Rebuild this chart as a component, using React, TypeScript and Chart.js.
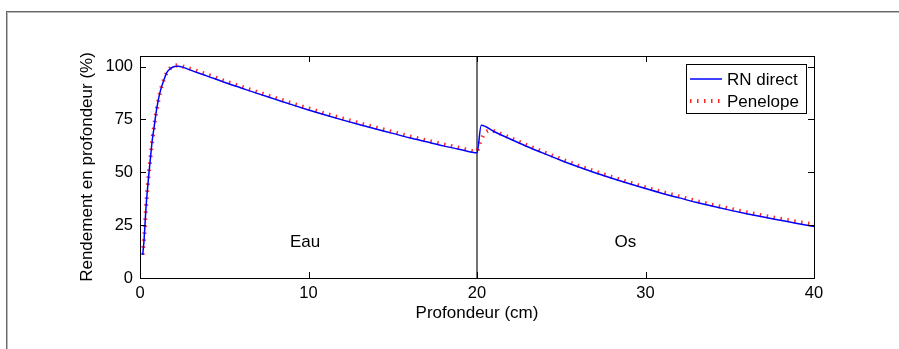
import { useEffect, useRef } from "react";
import { Chart, registerables } from "chart.js";

Chart.register(...registerables);

const FONT = '"Liberation Sans", Arial, Helvetica, sans-serif';
const FONT_SIZE = 17;
const TICK_SIZE = 16.5;

// RN direct (blue solid)
const rnDepth = [
  0.16, 0.24, 0.3, 0.36, 0.44, 0.53, 0.63, 0.73, 0.83, 0.95, 1.09, 1.23, 1.39,
  1.58, 1.78, 2.05, 2.27, 2.6, 3, 4, 5, 6, 7, 8, 9, 10, 11, 12, 13, 14, 15, 16,
  17, 18, 19, 20, 20.25, 21, 22, 23, 24, 25, 26, 27, 28, 29, 30, 31, 32, 33, 34,
  35, 36, 37, 38, 39, 40,
];
const rnDose = [
  10.9, 18, 25.9, 33.8, 41.7, 49.6, 57.5, 65.4, 70.9, 78, 84.4, 89.1, 93, 97,
  98.9, 100, 100.2, 99.5, 98.3, 95.5, 92.6, 89.9, 87.2, 84.6, 82, 79.5, 77.1,
  74.8, 72.6, 70.5, 68.4, 66.3, 64.4, 62.5, 60.8, 59.2, 72.2, 69.3, 65.6, 62.1,
  58.8, 55.6, 52.6, 49.8, 47.2, 44.7, 42.3, 40, 37.9, 35.8, 33.9, 32.1, 30.4,
  28.8, 27.3, 25.8, 24.4,
];

// Penelope (red dotted)
const penDepth = [
  0.15, 0.25, 0.35, 0.45, 0.55, 0.65, 0.75, 0.85, 1, 1.2, 1.4, 1.6, 1.8, 2, 2.3,
  2.6, 3, 4, 5, 6, 7, 8, 9, 10, 11, 12, 13, 14, 15, 16, 17, 18, 19, 20, 20.1,
  20.3, 20.5, 20.8, 21.2, 22, 23, 24, 25, 26, 27, 28, 29, 30, 31, 32, 33, 34, 35,
  36, 37, 38, 39, 40,
];
const penDose = [
  11, 19.5, 32.5, 43, 51.5, 59, 66.5, 72.5, 80, 88, 93.5, 97.2, 99.2, 100.2,
  100.6, 99.9, 98.9, 96.2, 93.3, 90.6, 87.9, 85.3, 82.7, 80.2, 77.8, 75.5, 73.3,
  71.2, 69.1, 67, 65.1, 63.2, 61.5, 59.9, 62.5, 66.2, 68.8, 69.8, 68.9, 66.2,
  62.7, 59.4, 56.2, 53.2, 50.4, 47.8, 45.3, 42.9, 40.7, 38.6, 36.5, 34.6, 32.8,
  31.1, 29.5, 28, 26.6, 25.3,
];

// Water / bone interface
const interfaceDepth = [20, 20];
const interfaceDose = [0, 105];

const xTicks = [0, 10, 20, 30, 40];
const yTicks = [0, 25, 50, 75, 100];
const xRange = [0, 40];
const yRange = [0, 105];

const seriesNames = ["RN direct", "Penelope"];
const regionNames = ["Eau", "Os"];
const regionDepth = [9.8, 28.8];
const regionDose = [17, 17];

const xTitle = "Profondeur (cm)";
const yTitle = "Rendement en profondeur (%)";

const pairs = (xs: number[], ys: number[]) => xs.map((x, i) => ({ x, y: ys[i] }));

const matlabPlugin = {
  id: "matlabDecor",
  afterDatasetsDraw(chart: any) {
    const { ctx, chartArea: a, scales } = chart;
    const xs = scales.x;
    const ys = scales.y;
    ctx.save();
    ctx.strokeStyle = "#000";
    ctx.lineWidth = 1;
    ctx.strokeRect(Math.round(a.left) + 0.5, Math.round(a.top) + 0.5, Math.round(a.right - a.left), Math.round(a.bottom - a.top));
    const tl = 6;
    ctx.beginPath();
    xs.ticks.forEach((t: any) => {
      const p = Math.round(xs.getPixelForValue(t.value)) + 0.5;
      ctx.moveTo(p, a.bottom);
      ctx.lineTo(p, a.bottom - tl);
      ctx.moveTo(p, a.top);
      ctx.lineTo(p, a.top + tl);
    });
    ys.ticks.forEach((t: any) => {
      const p = Math.round(ys.getPixelForValue(t.value)) + 0.5;
      ctx.moveTo(a.left, p);
      ctx.lineTo(a.left + tl, p);
      ctx.moveTo(a.right, p);
      ctx.lineTo(a.right - tl, p);
    });
    ctx.stroke();
    ctx.fillStyle = "#000";
    ctx.font = `${FONT_SIZE}px ${FONT}`;
    ctx.textAlign = "center";
    ctx.textBaseline = "middle";
    regionNames.forEach((name, i) => {
      ctx.fillText(name, xs.getPixelForValue(regionDepth[i]), ys.getPixelForValue(regionDose[i]));
    });
    ctx.restore();
  },
  afterDraw(chart: any) {
    const { ctx, chartArea: a } = chart;
    const ds = chart.data.datasets.slice(0, 2);
    const right = Math.round(a.right) - 8;
    const top = Math.round(a.top) + 8;
    const left = right - 120;
    const height = 49;
    ctx.save();
    ctx.fillStyle = "#fff";
    ctx.fillRect(left, top, right - left, height);
    ctx.strokeStyle = "#000";
    ctx.lineWidth = 1;
    ctx.strokeRect(left + 0.5, top + 0.5, right - left, height);
    ds.forEach((d: any, i: number) => {
      const cy = top + 15 + i * 22;
      ctx.save();
      ctx.strokeStyle = d.borderColor;
      ctx.lineWidth = d.borderWidth;
      ctx.setLineDash(d.borderDash || []);
      ctx.beginPath();
      ctx.moveTo(left + 4, cy);
      ctx.lineTo(left + 36, cy);
      ctx.stroke();
      ctx.restore();
      ctx.fillStyle = "#000";
      ctx.font = `${FONT_SIZE}px ${FONT}`;
      ctx.textAlign = "left";
      ctx.textBaseline = "middle";
      ctx.fillText(d.label, left + 41, cy + 1);
    });
    ctx.restore();
  },
};

export default function App() {
  const ref = useRef<HTMLCanvasElement | null>(null);
  useEffect(() => {
    if (!ref.current) return;
    const chart = new Chart(ref.current, {
      type: "line",
      data: {
        datasets: [
          {
            label: seriesNames[0],
            data: pairs(rnDepth, rnDose),
            borderColor: "#0000ff",
            borderWidth: 1.5,
            pointRadius: 0,
            tension: 0,
            cubicInterpolationMode: "monotone",
          },
          {
            label: seriesNames[1],
            data: pairs(penDepth, penDose),
            borderColor: "rgba(255,0,0,0.85)",
            borderWidth: 4,
            borderDash: [1.5, 5.5],
            borderCapStyle: "butt",
            pointRadius: 0,
            cubicInterpolationMode: "monotone",
          },
          {
            label: "interface",
            data: pairs(interfaceDepth, interfaceDose),
            borderColor: "#444",
            borderWidth: 1.5,
            pointRadius: 0,
          },
        ],
      },
      options: {
        responsive: false,
        animation: false,
        events: [],
        layout: { padding: { left: 70, top: 56, right: 85, bottom: 0 } },
        plugins: { legend: { display: false }, tooltip: { enabled: false } },
        scales: {
          x: {
            type: "linear",
            min: xRange[0],
            max: xRange[1],
            afterBuildTicks: (s: any) => {
              s.ticks = xTicks.map((v) => ({ value: v }));
            },
            afterFit: (s: any) => {
              s.height = 71;
            },
            grid: { display: false, drawTicks: false },
            border: { display: false },
            ticks: { color: "#000", padding: 6, font: { family: FONT, size: TICK_SIZE }, maxRotation: 0 },
            title: {
              display: true,
              text: xTitle,
              color: "#000",
              font: { family: FONT, size: FONT_SIZE },
              padding: { top: 0, bottom: 25 },
            },
          },
          y: {
            type: "linear",
            min: yRange[0],
            max: yRange[1],
            afterBuildTicks: (s: any) => {
              s.ticks = yTicks.map((v) => ({ value: v }));
            },
            afterFit: (s: any) => {
              s.width = 70;
            },
            grid: { display: false, drawTicks: false },
            border: { display: false },
            ticks: { color: "#000", padding: 7, font: { family: FONT, size: TICK_SIZE } },
            title: {
              display: true,
              text: yTitle,
              color: "#000",
              font: { family: FONT, size: FONT_SIZE },
              padding: { top: 7, bottom: 0 },
            },
          },
        },
      },
      plugins: [matlabPlugin],
    } as any);
    return () => chart.destroy();
  }, []);

  return (
    <div style={{ position: "fixed", left: 0, top: 0, width: 899, height: 349, overflow: "hidden", background: "#fff" }}>
      <div
        style={{
          position: "absolute",
          left: 6,
          top: 11,
          width: 1000,
          height: 500,
          borderTop: "1px solid #666",
          borderLeft: "1px solid #666",
          boxShadow: "inset 1px 1px 0 #bbb",
        }}
      />
      <canvas ref={ref} width={899} height={349} style={{ position: "absolute", left: 0, top: 0, width: 899, height: 349 }} />
    </div>
  );
}
